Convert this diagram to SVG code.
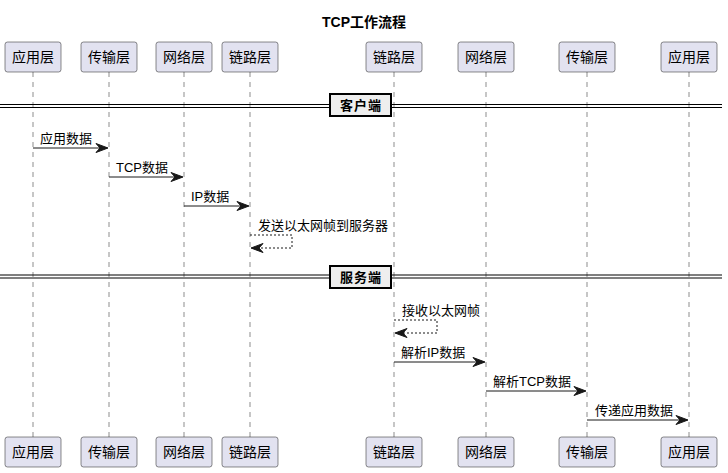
<svg xmlns="http://www.w3.org/2000/svg" width="728" height="473" viewBox="0 0 728 473">
<style>
.title{font-family:"Liberation Sans","Noto Sans CJK SC",sans-serif;font-size:14px;font-weight:bold;fill:#000;text-anchor:middle}
.pbox{fill:#E2E2F0;stroke:#181818;stroke-width:0.5}
.pname{font-family:"Liberation Sans","Noto Sans CJK SC",sans-serif;font-size:14px;fill:#000;text-anchor:middle}
.life{stroke:#181818;stroke-width:0.5;stroke-dasharray:5,5;fill:none}
.msg{stroke:#181818;stroke-width:1;fill:none}
.ret{stroke:#181818;stroke-width:1;fill:none;stroke-dasharray:2,2}
.head{fill:#181818;stroke:#181818;stroke-width:1}
.mtext{font-family:"Liberation Sans","Noto Sans CJK SC",sans-serif;font-size:13px;fill:#000}
.dline{stroke:#000;stroke-width:1;fill:none}
.dbox{fill:#EEEEEE;stroke:#000;stroke-width:2}
.dtext{font-family:"Liberation Sans","Noto Sans CJK SC",sans-serif;font-size:13px;font-weight:bold;fill:#000;text-anchor:middle;letter-spacing:1px}
</style>
<rect width="728" height="473" fill="#FFFFFF"/>
<text class="title" x="364" y="27">TCP工作流程</text>

<g id="lifelines">
<line class="life" x1="33" y1="72" x2="33" y2="437"/>
<line class="life" x1="109" y1="72" x2="109" y2="437"/>
<line class="life" x1="184" y1="72" x2="184" y2="437"/>
<line class="life" x1="250" y1="72" x2="250" y2="437"/>
<line class="life" x1="394" y1="72" x2="394" y2="437"/>
<line class="life" x1="486" y1="72" x2="486" y2="437"/>
<line class="life" x1="587" y1="72" x2="587" y2="437"/>
<line class="life" x1="689" y1="72" x2="689" y2="437"/>
</g>

<g id="p1"><rect class="pbox" x="5" y="42" width="56" height="30" rx="2.5"/><text class="pname" x="33" y="62">应用层</text>
<rect class="pbox" x="5" y="437" width="56" height="30" rx="2.5"/><text class="pname" x="33" y="457">应用层</text></g>
<g id="p2"><rect class="pbox" x="81" y="42" width="56" height="30" rx="2.5"/><text class="pname" x="109" y="62">传输层</text>
<rect class="pbox" x="81" y="437" width="56" height="30" rx="2.5"/><text class="pname" x="109" y="457">传输层</text></g>
<g id="p3"><rect class="pbox" x="156" y="42" width="56" height="30" rx="2.5"/><text class="pname" x="184" y="62">网络层</text>
<rect class="pbox" x="156" y="437" width="56" height="30" rx="2.5"/><text class="pname" x="184" y="457">网络层</text></g>
<g id="p4"><rect class="pbox" x="222" y="42" width="56" height="30" rx="2.5"/><text class="pname" x="250" y="62">链路层</text>
<rect class="pbox" x="222" y="437" width="56" height="30" rx="2.5"/><text class="pname" x="250" y="457">链路层</text></g>
<g id="p5"><rect class="pbox" x="366" y="42" width="56" height="30" rx="2.5"/><text class="pname" x="394" y="62">链路层</text>
<rect class="pbox" x="366" y="437" width="56" height="30" rx="2.5"/><text class="pname" x="394" y="457">链路层</text></g>
<g id="p6"><rect class="pbox" x="458" y="42" width="56" height="30" rx="2.5"/><text class="pname" x="486" y="62">网络层</text>
<rect class="pbox" x="458" y="437" width="56" height="30" rx="2.5"/><text class="pname" x="486" y="457">网络层</text></g>
<g id="p7"><rect class="pbox" x="559" y="42" width="56" height="30" rx="2.5"/><text class="pname" x="587" y="62">传输层</text>
<rect class="pbox" x="559" y="437" width="56" height="30" rx="2.5"/><text class="pname" x="587" y="457">传输层</text></g>
<g id="p8"><rect class="pbox" x="661" y="42" width="56" height="30" rx="2.5"/><text class="pname" x="689" y="62">应用层</text>
<rect class="pbox" x="661" y="437" width="56" height="30" rx="2.5"/><text class="pname" x="689" y="457">应用层</text></g>

<g id="div-client">
<line class="dline" x1="0" y1="104.5" x2="722" y2="104.5"/>
<line class="dline" x1="0" y1="107.5" x2="722" y2="107.5"/>
<rect class="dbox" x="330" y="94" width="61" height="22"/>
<text class="dtext" x="361" y="110">客户端</text>
</g>
<g id="div-server">
<line class="dline" x1="0" y1="275" x2="722" y2="275"/>
<line class="dline" x1="0" y1="278" x2="722" y2="278"/>
<rect class="dbox" x="330" y="266" width="61" height="22"/>
<text class="dtext" x="361" y="282">服务端</text>
</g>

<g id="connectors">
<line class="msg" x1="33" y1="148" x2="107" y2="148"/>
<polygon class="head" points="96,143.5 108,148 96,152.5 100,148"/>
<text class="mtext" x="40" y="143">应用数据</text>

<line class="msg" x1="109" y1="177" x2="182" y2="177"/>
<polygon class="head" points="171,172.5 183,177 171,181.5 175,177"/>
<text class="mtext" x="116" y="172">TCP数据</text>

<line class="msg" x1="184" y1="206" x2="248" y2="206"/>
<polygon class="head" points="237,201.5 249,206 237,210.5 241,206"/>
<text class="mtext" x="191" y="201">IP数据</text>

<polyline class="ret" points="250,235 292,235 292,248 252,248"/>
<polygon class="head" points="263,243.5 251,248 263,252.5 259,248"/>
<text class="mtext" x="258" y="230">发送以太网帧到服务器</text>

<polyline class="ret" points="394,320 437,320 437,333 396,333"/>
<polygon class="head" points="407,328.5 395,333 407,337.5 403,333"/>
<text class="mtext" x="402" y="315">接收以太网帧</text>

<line class="msg" x1="394" y1="362" x2="484" y2="362"/>
<polygon class="head" points="473,357.5 485,362 473,366.5 477,362"/>
<text class="mtext" x="401" y="357">解析IP数据</text>

<line class="msg" x1="486" y1="391" x2="585" y2="391"/>
<polygon class="head" points="574,386.5 586,391 574,395.5 578,391"/>
<text class="mtext" x="493" y="386">解析TCP数据</text>

<line class="msg" x1="587" y1="420" x2="687" y2="420"/>
<polygon class="head" points="676,415.5 688,420 676,424.5 680,420"/>
<text class="mtext" x="595" y="415">传递应用数据</text>
</g>
</svg>
